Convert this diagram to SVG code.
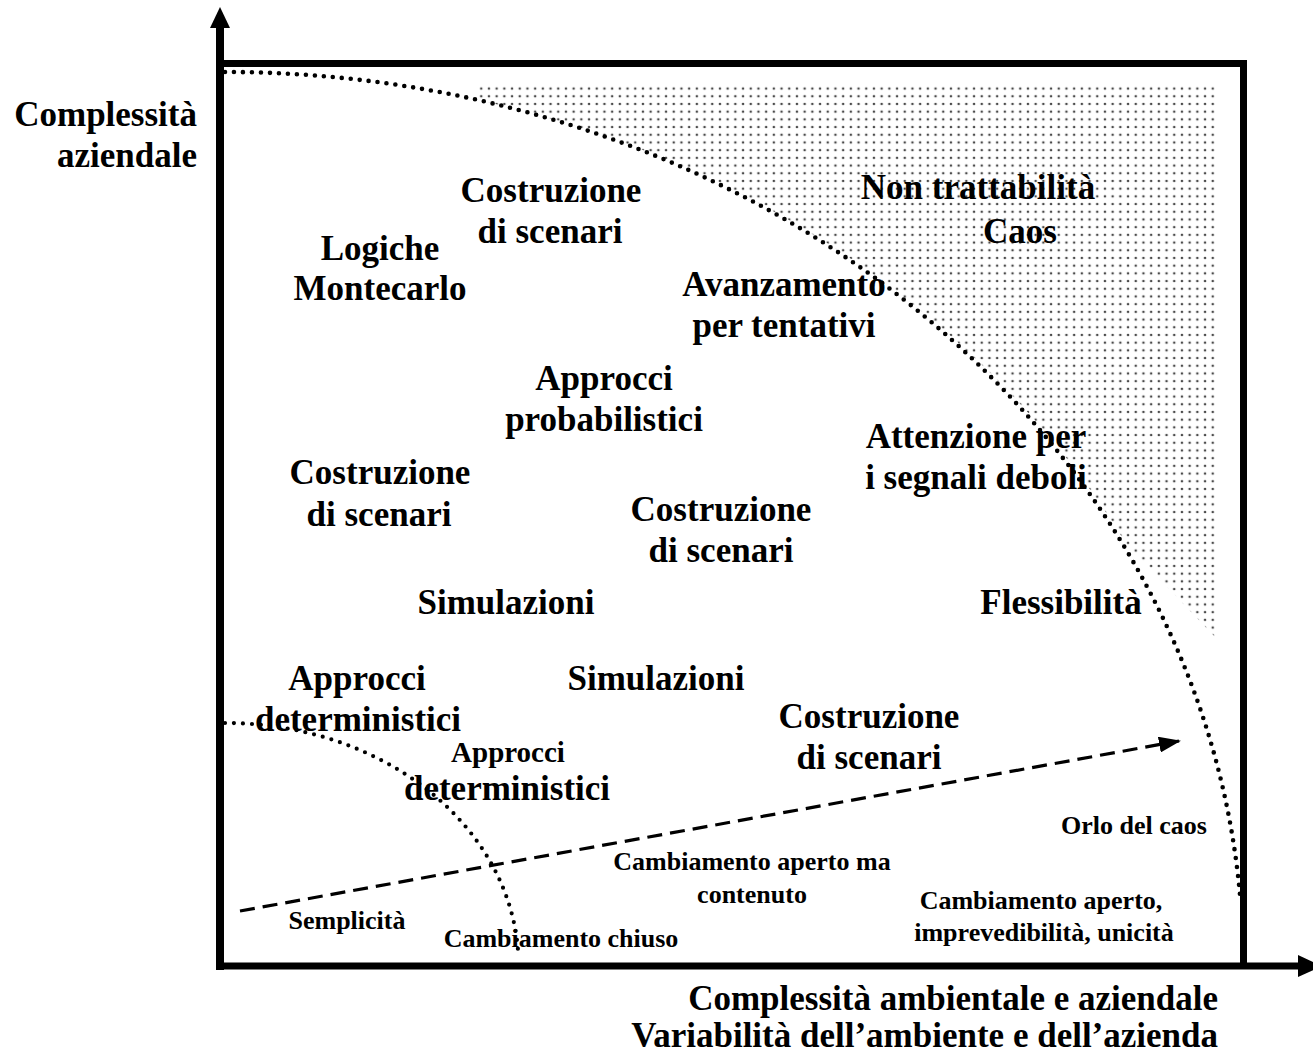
<svg xmlns="http://www.w3.org/2000/svg" width="1313" height="1057" viewBox="0 0 1313 1057">
<style>
text{font-family:"Liberation Serif","Times New Roman",serif;font-weight:bold;fill:#000;text-anchor:middle}
.big{font-size:35px}
.mid{font-size:29px}
.small{font-size:26px}
.axis{stroke:#000;fill:none}
.dotted{fill:none;stroke:#000;stroke-linecap:round;stroke-dasharray:0 9}
</style>
<defs>
<pattern id="dots" x="0" y="0" width="7.7" height="7.7" patternUnits="userSpaceOnUse">
<circle cx="3.85" cy="3.85" r="1.3" fill="#4a4a4a"/>
</pattern>
<marker id="dashHead" viewBox="0 0 22 16" refX="20" refY="8" markerWidth="22" markerHeight="16" markerUnits="userSpaceOnUse" orient="auto">
<path d="M0,0 L22,8 L0,16 Z" fill="#000"/>
</marker>
</defs>
<g id="background">
<rect width="1313" height="1057" fill="#fff"/>
</g>
<g id="chaos-region">
<path d="M478,83 L1218,83 L1218,640 L1127,545 A1018 894 0 0 0 478,100 Z" fill="url(#dots)"/>
</g>
<g id="frame">
<line class="axis" x1="1243.5" y1="60" x2="1243.5" y2="966" stroke-width="7"/>
<line class="axis" x1="216" y1="63.5" x2="1247" y2="63.5" stroke-width="7"/>
<line class="axis" x1="220" y1="25" x2="220" y2="970" stroke-width="8"/>
<line class="axis" x1="216" y1="966" x2="1300" y2="966" stroke-width="7"/>
<polygon points="220,7 230,28 210,28" fill="#000"/>
<polygon points="1298,955 1322,966 1298,977" fill="#000"/>
</g>
<g id="connectors">
<path class="dotted" d="M225,72 A1018 894 0 0 1 1240,895" stroke-width="4.6"/>
<path class="dotted" d="M225,723 A293 243 0 0 1 518,950" stroke-width="4.2"/>
<line x1="240" y1="911" x2="1179" y2="741" stroke="#000" stroke-width="3.2" stroke-dasharray="15 8" marker-end="url(#dashHead)"/>
</g>
<g id="axis-y-label">
<text class="big" x="197" y="126" style="text-anchor:end">Complessità</text>
<text class="big" x="197" y="167" style="text-anchor:end">aziendale</text>
</g>
<g id="axis-x-label">
<text class="big" x="1218" y="1010" style="text-anchor:end">Complessità ambientale e aziendale</text>
<text class="big" x="1218" y="1047" style="text-anchor:end">Variabilità dell’ambiente e dell’azienda</text>
</g>
<g id="n-costruzione-1"><text class="big" x="551" y="202">Costruzione</text><text class="big" x="550" y="243">di scenari</text></g>
<g id="n-montecarlo"><text class="big" x="380" y="260">Logiche</text><text class="big" x="380" y="300">Montecarlo</text></g>
<g id="n-caos"><text class="big" x="978" y="199">Non trattabilità</text><text class="big" x="1020" y="243">Caos</text></g>
<g id="n-avanzamento"><text class="big" x="784" y="296">Avanzamento</text><text class="big" x="784" y="337">per tentativi</text></g>
<g id="n-probabilistici"><text class="big" x="604" y="390">Approcci</text><text class="big" x="604" y="431">probabilistici</text></g>
<g id="n-segnali"><text class="big" x="976" y="448">Attenzione per</text><text class="big" x="976" y="489">i segnali deboli</text></g>
<g id="n-costruzione-2"><text class="big" x="380" y="484">Costruzione</text><text class="big" x="379" y="526">di scenari</text></g>
<g id="n-costruzione-3"><text class="big" x="721" y="521">Costruzione</text><text class="big" x="721" y="562">di scenari</text></g>
<g id="n-simulazioni-1"><text class="big" x="506" y="614">Simulazioni</text></g>
<g id="n-flessibilita"><text class="big" x="1061" y="614">Flessibilità</text></g>
<g id="n-simulazioni-2"><text class="big" x="656" y="690">Simulazioni</text></g>
<g id="n-deterministici-1"><text class="big" x="357" y="690">Approcci</text><text class="big" x="358" y="731">deterministici</text></g>
<g id="n-costruzione-4"><text class="big" x="869" y="728">Costruzione</text><text class="big" x="869" y="769">di scenari</text></g>
<g id="n-deterministici-2"><text class="mid" x="508" y="762">Approcci</text><text class="big" x="507" y="800">deterministici</text></g>
<g id="n-orlo"><text class="small" x="1134" y="834">Orlo del caos</text></g>
<g id="n-aperto-contenuto"><text class="small" x="752" y="870">Cambiamento aperto ma</text><text class="small" x="752" y="903">contenuto</text></g>
<g id="n-aperto"><text class="small" x="1041" y="909">Cambiamento aperto,</text><text class="small" x="1044" y="941">imprevedibilità, unicità</text></g>
<g id="n-semplicita"><text class="small" x="347" y="929">Semplicità</text></g>
<g id="n-chiuso"><text class="small" x="561" y="947">Cambiamento chiuso</text></g>
</svg>
